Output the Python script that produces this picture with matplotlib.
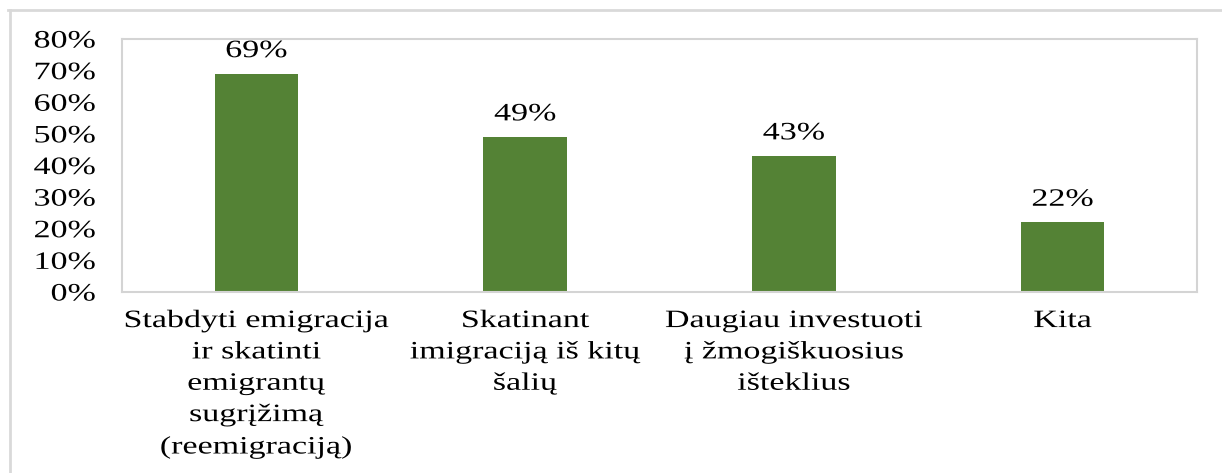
import matplotlib
matplotlib.use("Agg")
import matplotlib.pyplot as plt
from matplotlib.patheffects import AbstractPathEffect
from matplotlib.transforms import Affine2D
from matplotlib.lines import Line2D

# Survey answers and their shares (%)
categories = [
    "Stabdyti emigracija\nir skatinti\nemigrantų\nsugrįžimą\n(reemigraciją)",
    "Skatinant\nimigraciją iš kitų\nšalių",
    "Daugiau investuoti\nį žmogiškuosius\ništeklius",
    "Kita",
]
values = [69, 49, 43, 22]
y_ticks = [0, 10, 20, 30, 40, 50, 60, 70, 80]
y_tick_labels = [f"{t}%" for t in y_ticks]

BAR_COLOR = "#548235"
FRAME_COLOR = "#d4d4d4"
FONT = "Liberation Serif"
FS = 18


class WideText(AbstractPathEffect):
    """Draw glyphs stretched horizontally about a chosen anchor of each line."""

    def __init__(self, sx=1.36, anchor="center"):
        super().__init__()
        self.sx = sx
        self.anchor = anchor

    def draw_path(self, renderer, gc, tpath, affine, rgbFace=None):
        ext = tpath.get_extents()
        if self.anchor == "right":
            ax_ = ext.x1
        elif self.anchor == "left":
            ax_ = ext.x0
        else:
            ax_ = 0.5 * (ext.x0 + ext.x1)
        stretch = Affine2D().translate(-ax_, 0).scale(self.sx, 1).translate(ax_, 0)
        renderer.draw_path(gc, tpath, stretch + affine, rgbFace)


fig = plt.figure(figsize=(12.22, 4.73), dpi=100)
ax = fig.add_axes([122 / 1222, 1 - 292 / 473, 1075 / 1222, 253 / 473])

x = list(range(len(categories)))
bars = ax.bar(x, values, width=0.31, color=BAR_COLOR, zorder=2)

ax.set_xlim(-0.5, len(categories) - 0.5)
ax.set_ylim(0, 80)

ax.set_yticks(y_ticks)
ax.set_yticklabels(y_tick_labels, fontsize=FS, family=FONT)
ax.tick_params(axis="y", length=0, pad=19)
for lbl in ax.get_yticklabels():
    lbl.set_path_effects([WideText(anchor="right")])

ax.set_xticks(x)
ax.set_xticklabels(categories, fontsize=FS, family=FONT, linespacing=1.55)
ax.tick_params(axis="x", length=0, pad=13)
for lbl in ax.get_xticklabels():
    lbl.set_path_effects([WideText(anchor="center")])

for spine in ax.spines.values():
    spine.set_color(FRAME_COLOR)
    spine.set_linewidth(1.5)

for xi, v in zip(x, values):
    t = ax.annotate(f"{v}%", (xi, v), xytext=(0, 12), textcoords="offset points",
                    ha="center", va="baseline", fontsize=FS, family=FONT)
    t.set_path_effects([WideText(anchor="center")])

# Outer frame lines (top and left edges of the chart box)
fig.add_artist(Line2D([8 / 1222, 1.0], [1 - 10 / 473] * 2, transform=fig.transFigure,
                      color="#d9d9d9", linewidth=2))
fig.add_artist(Line2D([9.5 / 1222] * 2, [0.0, 1 - 10 / 473], transform=fig.transFigure,
                      color="#d9d9d9", linewidth=2))

fig.savefig("out.png", dpi=100)
